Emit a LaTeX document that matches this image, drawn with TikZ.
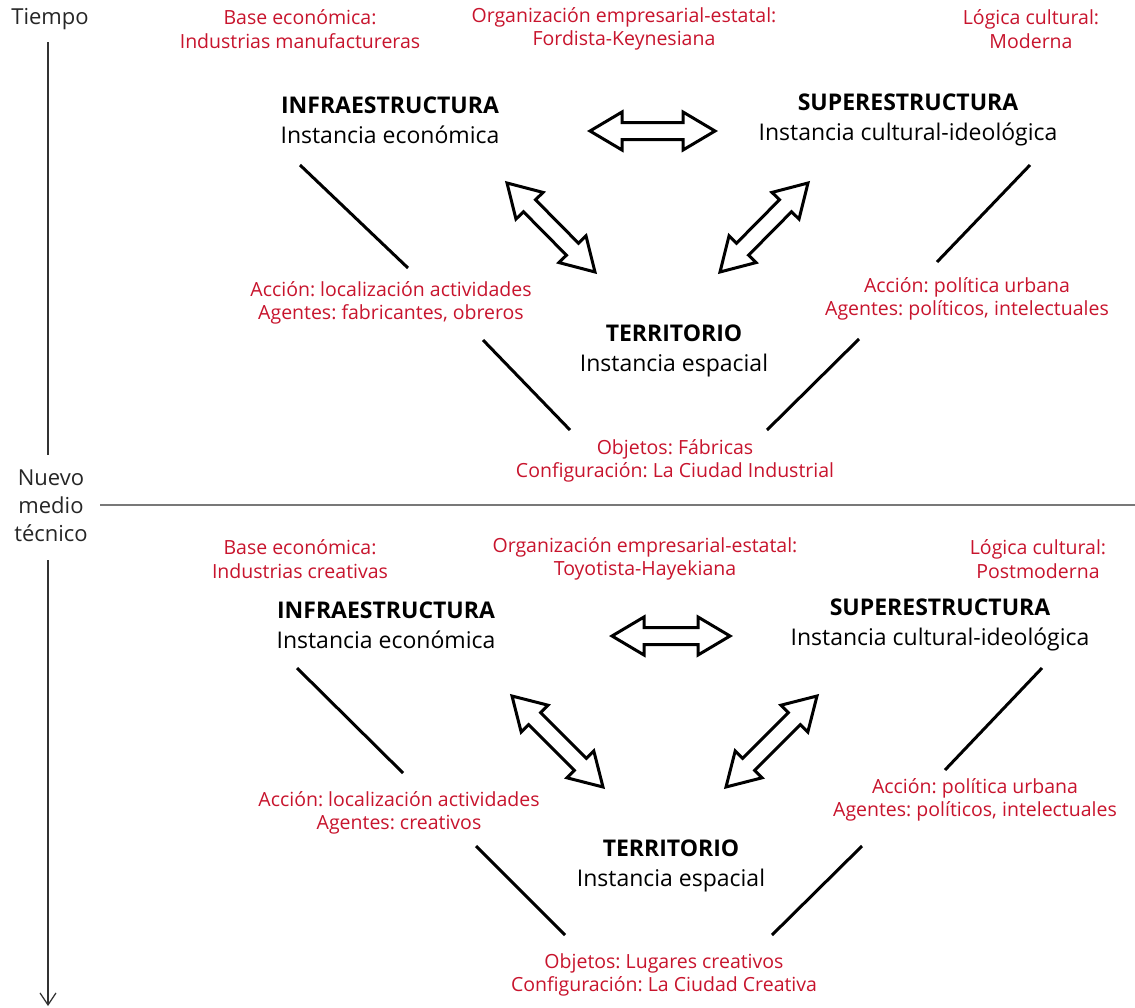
\documentclass[tikz,border=0pt]{standalone}
\usepackage{fontspec}
\setmainfont{Open Sans}
\usetikzlibrary{calc,arrows.meta}
\definecolor{redtxt}{RGB}{200,20,45}
\definecolor{axisgray}{RGB}{120,120,120}
\tikzset{
  redlbl/.style={text=redtxt, align=center, inner sep=0pt, font=\fontsize{19.5}{23.5}\selectfont},
  blklbl/.style={text=black, align=center, inner sep=0pt, font=\fontsize{23}{30}\selectfont},
  axlbl/.style={text=black!85, align=center, inner sep=0pt, font=\fontsize{22}{28}\selectfont},
  link/.style={line width=3pt, black},
  arr/.style={line width=3pt, draw=black, fill=white, line join=miter},
  axisline/.style={line width=1.2pt, black!80},
  sepline/.style={line width=1.5pt, axisgray},
}
\newcommand\dblarr[2]{%
  \path let \p1=(#1), \p2=(#2), \n1={atan2(\y2-\y1,\x2-\x1)}, \n2={veclen(\x2-\x1,\y2-\y1)} in
    \pgfextra{\xdef\arrang{\n1}\xdef\arrlen{\n2}\xdef\arrx{\x1}\xdef\arry{\y1}};
  \begin{scope}[shift={(\arrx,\arry)}, rotate=\arrang, x=1pt, y=1pt]
    \draw[arr] (0,0) -- (32,19) -- (32,8.5) -- (\arrlen-32,8.5) -- (\arrlen-32,19)
      -- (\arrlen,0) -- (\arrlen-32,-19) -- (\arrlen-32,-8.5) -- (32,-8.5) -- (32,-19) -- cycle;
  \end{scope}}
\begin{document}
\frenchspacing
\begin{tikzpicture}[x=1pt, y=-1pt]
\useasboundingbox (0,0) rectangle (1135,1007);
\fill[white] (0,0) rectangle (1135,1007);

% time axis
\node[axlbl] (tiempo) at (50,19) {Tiempo};
\node[axlbl] (nuevo) at (51,506) {Nuevo\\medio\\técnico};
\coordinate (ax1) at (48,42);
\coordinate (ax2) at (48,455);
\coordinate (ax3) at (48,560);
\coordinate (ax4) at (48,1006);
\coordinate (sep1) at (100,505);
\coordinate (sep2) at (1135,505);
\draw[axisline] (ax1) -- (ax2);
\draw[axisline, -{Straight Barb[length=12pt, width=16pt]}] (ax3) -- (ax4);
\draw[sepline] (sep1) -- (sep2);

% ---------- top half ----------
\node[redlbl] (baseT) at (300,29) {Base económica:\\Industrias manufactureras};
\node[redlbl] (orgT) at (624,29) {Organización empresarial-estatal:\\Fordista-Keynesiana};
\node[redlbl] (logT) at (1031,29) {Lógica cultural:\\Moderna};
\node[blklbl] (infraT) at (390,120) {\textbf{INFRAESTRUCTURA}\\Instancia económica};
\node[blklbl] (superT) at (908,120) {\textbf{SUPERESTRUCTURA}\\Instancia cultural-ideológica};
\node[redlbl] (accLT) at (391,303) {Acción: localización actividades\\Agentes: fabricantes, obreros};
\node[redlbl] (accRT) at (967,299) {Acción: política urbana\\Agentes: políticos, intelectuales};
\node[blklbl] (terrT) at (674,351) {\textbf{TERRITORIO}\\Instancia espacial};
\node[redlbl] (objT) at (675,461) {Objetos: Fábricas\\Configuración: La Ciudad Industrial};

\coordinate (hT1) at (590,131);  \coordinate (hT2) at (715,131);
\coordinate (dLT1) at (507,183); \coordinate (dLT2) at (595,272);
\coordinate (dRT1) at (808,183); \coordinate (dRT2) at (720,272);
\dblarr{hT1}{hT2}
\dblarr{dLT1}{dLT2}
\dblarr{dRT1}{dRT2}

\coordinate (lLT1) at (300,165); \coordinate (lLT2) at (408,268);
\coordinate (lLT3) at (483,340); \coordinate (lLT4) at (570,430);
\coordinate (lRT1) at (1030,165); \coordinate (lRT2) at (937,262);
\coordinate (lRT3) at (859,339); \coordinate (lRT4) at (767,430);
\draw[link] (lLT1) -- (lLT2);
\draw[link] (lLT3) -- (lLT4);
\draw[link] (lRT1) -- (lRT2);
\draw[link] (lRT3) -- (lRT4);

% ---------- bottom half ----------
\node[redlbl] (baseB) at (300,559) {Base económica:\\Industrias creativas};
\node[redlbl] (orgB) at (645,559) {Organización empresarial-estatal:\\Toyotista-Hayekiana};
\node[redlbl] (logB) at (1038,559) {Lógica cultural:\\Postmoderna};
\node[blklbl] (infraB) at (386,625) {\textbf{INFRAESTRUCTURA}\\Instancia económica};
\node[blklbl] (superB) at (940,625) {\textbf{SUPERESTRUCTURA}\\Instancia cultural-ideológica};
\node[redlbl] (accLB) at (399,813) {Acción: localización actividades\\Agentes: creativos};
\node[redlbl] (accRB) at (975,800) {Acción: política urbana\\Agentes: políticos, intelectuales};
\node[blklbl] (terrB) at (671,866) {\textbf{TERRITORIO}\\Instancia espacial};
\node[redlbl] (objB) at (664,975) {Objetos: Lugares creativos\\Configuración: La Ciudad Creativa};

\coordinate (hB1) at (612,636);  \coordinate (hB2) at (730,636);
\coordinate (dLB1) at (512,696); \coordinate (dLB2) at (603,787);
\coordinate (dRB1) at (817,696); \coordinate (dRB2) at (726,787);
\dblarr{hB1}{hB2}
\dblarr{dLB1}{dLB2}
\dblarr{dRB1}{dRB2}

\coordinate (lLB1) at (297,668); \coordinate (lLB2) at (403,773);
\coordinate (lLB3) at (476,846); \coordinate (lLB4) at (565,935);
\coordinate (lRB1) at (1042,668); \coordinate (lRB2) at (945,770);
\coordinate (lRB3) at (862,846); \coordinate (lRB4) at (772,935);
\draw[link] (lLB1) -- (lLB2);
\draw[link] (lLB3) -- (lLB4);
\draw[link] (lRB1) -- (lRB2);
\draw[link] (lRB3) -- (lRB4);
\end{tikzpicture}
\end{document}
